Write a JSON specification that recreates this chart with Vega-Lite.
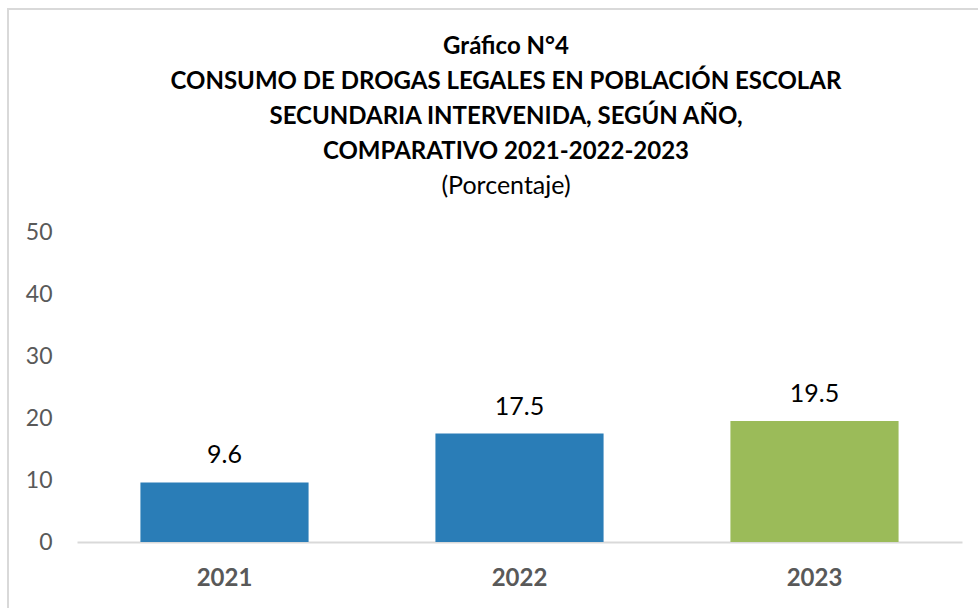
{
  "$schema": "https://vega.github.io/schema/vega-lite/v6.json",
  "autosize": {"type": "none"},
  "width": 1000,
  "height": 620,
  "padding": {"left": 8, "top": 9, "right": 0, "bottom": 0},
  "background": "white",
  "title": {
    "text": ["Gráfico N°4", "CONSUMO DE DROGAS LEGALES EN POBLACIÓN ESCOLAR", "SECUNDARIA INTERVENIDA, SEGÚN AÑO,", "COMPARATIVO 2021-2022-2023"],
    "subtitle": "(Porcentaje)",
    "font": "Lato",
    "fontSize": 24,
    "fontWeight": "bold",
    "color": "#000000",
    "lineHeight": 35,
    "subtitleFont": "Lato",
    "subtitleFontSize": 25,
    "subtitleColor": "#000000",
    "subtitlePadding": 10,
    "anchor": "middle",
    "frame": "group",
    "dx": -2,
    "offset": -190
  },
  "data": {
    "values": [
      {"year": "2021", "value": 9.6, "grp": "a"},
      {"year": "2022", "value": 17.5, "grp": "a"},
      {"year": "2023", "value": 19.5, "grp": "b"}
    ]
  },
  "encoding": {
    "x": {
      "field": "year", "type": "nominal", "sort": null,
      "scale": {"paddingInner": 0.43, "paddingOuter": 0.215, "range": [69, 954]},
      "axis": {
        "title": null, "labelAngle": 0, "ticks": false, "offset": -87,
        "domainColor": "#d9d9d9", "domainWidth": 2,
        "labelFont": "Lato", "labelFontSize": 24, "labelFontWeight": "bold",
        "labelColor": "#595959", "labelPadding": 24
      }
    },
    "y": {
      "field": "value", "type": "quantitative",
      "scale": {"domain": [0, 50], "range": [533, 223]},
      "axis": {
        "title": null, "values": [0, 10, 20, 30, 40, 50], "grid": false,
        "domain": false, "ticks": false, "offset": -69,
        "labelFont": "Lato", "labelFontSize": 23, "labelColor": "#595959",
        "labelPadding": 25
      }
    }
  },
  "layer": [
    {
      "mark": {"type": "bar"},
      "encoding": {
        "color": {
          "field": "grp", "type": "nominal", "legend": null,
          "scale": {"domain": ["a", "b"], "range": ["#2A7DB7", "#9BBB59"]}
        }
      }
    },
    {
      "mark": {"type": "text", "baseline": "bottom", "dy": -14, "font": "Lato", "fontSize": 25, "color": "#000000"},
      "encoding": {
        "text": {"field": "value", "type": "quantitative", "format": ".1f"}
      }
    }
  ],
  "config": {"view": {"stroke": "#d9d9d9", "strokeWidth": 2}}
}
